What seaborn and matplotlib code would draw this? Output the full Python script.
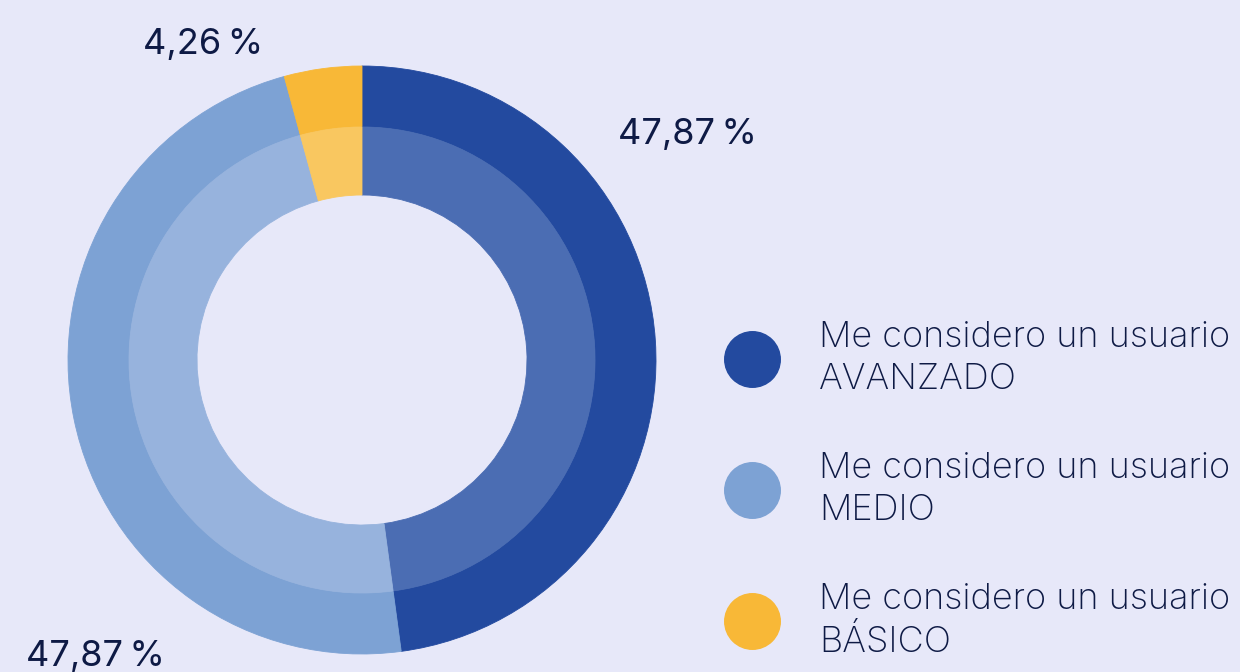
import matplotlib
matplotlib.use("Agg")
import matplotlib.pyplot as plt
from matplotlib.lines import Line2D
import seaborn as sns

# data
categories = ["AVANZADO", "MEDIO", "BÁSICO"]
shares = [47.87, 47.87, 4.26]
outer_colors = ["#234A9F", "#7DA2D4", "#F8B837"]
inner_colors = ["#4B6DB3", "#97B3DD", "#F9C760"]

bg = "#E7E8F9"
ink = "#0E1A45"

sns.set_style("white")
plt.rcParams['font.family'] = ['Inter', 'DejaVu Sans']

fig = plt.figure(figsize=(12.4, 6.72), dpi=100, facecolor=bg)
ax = fig.add_axes([0, 0, 1, 1])
ax.set_facecolor(bg)

cx, cy = 362, 312
outer, _ = ax.pie(shares, radius=294, center=(cx, cy), startangle=90, counterclock=False,
                  colors=outer_colors, wedgeprops=dict(width=61, linewidth=0.6))
inner, _ = ax.pie(shares, radius=233, center=(cx, cy), startangle=90, counterclock=False,
                  colors=inner_colors, wedgeprops=dict(width=68, linewidth=0.6))
for w in outer + inner:
    w.set_edgecolor(w.get_facecolor())

ax.set_xlim(0, 1240)
ax.set_ylim(0, 672)
ax.set_aspect("equal")
ax.axis("off")

def fmt(v):
    return f"{v:.2f}".replace(".", ",") + "\u2009%"

# value labels: avanzado (right), medio (bottom left), basico (top)
label_pos = [(687, 538), (95, 16), (203, 627)]
for v, (x, y) in zip(shares, label_pos):
    ax.text(x, y, fmt(v), ha="center", va="center", fontsize=26, color=ink)

handles = [Line2D([], [], marker="o", ls="", color=c, markersize=40) for c in outer_colors]
labels = [f"Me considero un usuario\n{c}" for c in categories]
leg = ax.legend(handles, labels, loc="center left", bbox_to_anchor=(716 / 1240, 1 - 490 / 672),
                bbox_transform=fig.transFigure, frameon=False, fontsize=26, labelcolor=ink,
                handletextpad=0.85, labelspacing=1.55, borderpad=0, borderaxespad=0)
for t in leg.get_texts():
    t.set_linespacing(1.35)
    t.set_fontweight("light")

fig.savefig("out.png", dpi=100, facecolor=bg)
